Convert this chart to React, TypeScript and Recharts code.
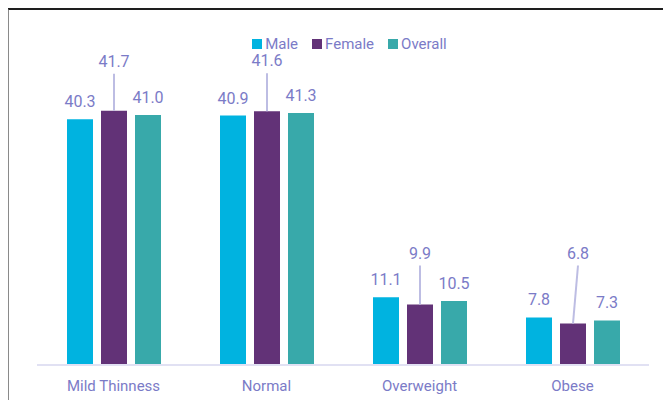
import React from 'react';
import { BarChart, Bar, XAxis, YAxis, Legend, LabelList } from 'recharts';

// Categories and series values
const CATEGORIES = ['Mild Thinness', 'Normal', 'Overweight', 'Obese'];
const MALE = [40.3, 40.9, 11.1, 7.8];
const FEMALE = [41.7, 41.6, 9.9, 6.8];
const OVERALL = [41.0, 41.3, 10.5, 7.3];
const SERIES = ['Male', 'Female', 'Overall'];

const MALE_COLOR = '#00b3e0';
const FEMALE_COLOR = '#623277';
const OVERALL_COLOR = '#38a9aa';
const TEXT_COLOR = '#7b7bc7';
const FONT = 'Roboto, "Noto Sans", sans-serif';

// how far above the bar top each female label sits (leader line length)
const FEMALE_LIFT = [44, 45, 46, 65];
const FEMALE_SHIFT = [0, 0, 0, 5];

const data = CATEGORIES.map((name, i) => ({
  name,
  male: MALE[i],
  female: FEMALE[i],
  overall: OVERALL[i]
}));

const FemaleLabel = (props: any) => {
  const { x, y, width, value, index } = props;
  const cx = x + width / 2;
  const lift = FEMALE_LIFT[index] ?? 44;
  const shift = FEMALE_SHIFT[index] ?? 0;
  const baseline = y - lift;
  return (
    <g>
      <line
        x1={cx + shift}
        y1={baseline + 7}
        x2={cx}
        y2={y}
        stroke="#bdbde3"
        strokeWidth={2}
      />
      <text
        x={cx + shift}
        y={baseline}
        textAnchor="middle"
        fill={TEXT_COLOR}
        fontSize={16}
        fontFamily={FONT}
      >
        {Number(value).toFixed(1)}
      </text>
    </g>
  );
};

const renderLegend = (props: any) => {
  const payload = [...(props.payload || [])].sort(
    (a: any, b: any) => SERIES.indexOf(a.value) - SERIES.indexOf(b.value)
  );
  return (
    <div style={{ display: 'flex', justifyContent: 'center', fontFamily: FONT, fontSize: 15, color: TEXT_COLOR }}>
      {payload.map((entry: any, i: number) => (
        <div key={entry.value} style={{ display: 'flex', alignItems: 'center', marginLeft: i === 0 ? 0 : 14 }}>
          <span style={{ width: 10, height: 10, background: entry.color, display: 'inline-block', marginRight: 3 }} />
          <span>{entry.value}</span>
        </div>
      ))}
    </div>
  );
};

const fmt = (v: any) => Number(v).toFixed(1);

export default function App() {
  return (
    <div style={{ position: 'relative', width: 671, height: 408, margin: -8, background: '#fff', overflow: 'hidden' }}>
      <div
        style={{
          position: 'absolute',
          left: 7,
          top: 8,
          width: 700,
          height: 420,
          borderTop: '2px solid #1e1e1e',
          borderLeft: '2px solid #8a8a8a',
          boxSizing: 'border-box'
        }}
      />
      <div style={{ position: 'absolute', left: 0, top: 0 }}>
        <BarChart
          width={671}
          height={408}
          data={data}
          margin={{ top: 60, right: 22, left: 37, bottom: 13 }}
          barSize={26}
          barGap={8}
        >
          <XAxis
            dataKey="name"
            axisLine={{ stroke: '#e1e1f3', strokeWidth: 2 }}
            tickLine={false}
            height={30}
            tick={{ fill: TEXT_COLOR, fontSize: 15, fontFamily: FONT }}
            tickMargin={9}
          />
          <YAxis hide domain={[0, 50]} />
          <Legend
            verticalAlign="middle"
            align="center"
            content={renderLegend}
            wrapperStyle={{ top: 35, left: 14, width: 671 }}
          />
          <Bar dataKey="male" name="Male" fill={MALE_COLOR} isAnimationActive={false}>
            <LabelList dataKey="male" position="top" offset={12} formatter={fmt} fill={TEXT_COLOR} fontSize={16} fontFamily={FONT} />
          </Bar>
          <Bar dataKey="female" name="Female" fill={FEMALE_COLOR} isAnimationActive={false}>
            <LabelList dataKey="female" content={FemaleLabel} />
          </Bar>
          <Bar dataKey="overall" name="Overall" fill={OVERALL_COLOR} isAnimationActive={false}>
            <LabelList dataKey="overall" position="top" offset={12} formatter={fmt} fill={TEXT_COLOR} fontSize={16} fontFamily={FONT} />
          </Bar>
        </BarChart>
      </div>
    </div>
  );
}
